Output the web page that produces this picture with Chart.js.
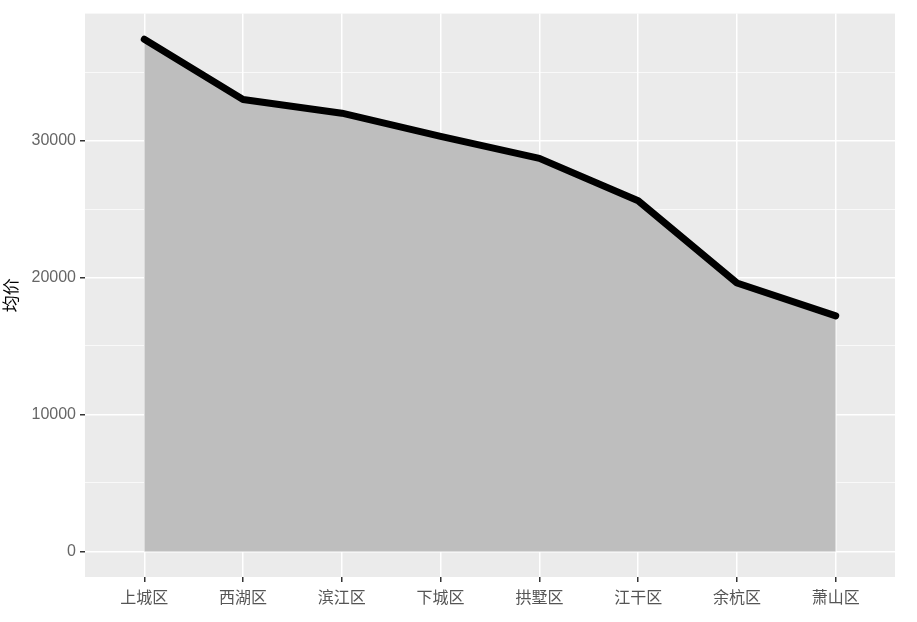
<!DOCTYPE html>
<html>
<head>
<meta charset="utf-8">
<script src="https://cdn.jsdelivr.net/npm/chart.js@4/dist/chart.umd.min.js"></script>
<style>
  html, body { margin: 0; padding: 0; background: #fff; }
  #wrap { width: 917px; height: 622px; }
</style>
</head>
<body>
<div id="wrap"><canvas id="myChart" width="917" height="622"></canvas></div>
<script>
// districts and average price (均价)
const districts = ["上城区", "西湖区", "滨江区", "下城区", "拱墅区", "江干区", "余杭区", "萧山区"];
const prices = [37400, 33000, 32000, 30300, 28700, 25600, 19600, 17200];
const yTicks = [0, 10000, 20000, 30000];
const yMinor = [5000, 15000, 25000, 35000];

const panelBg = {
    id: "panelBg",
    beforeDraw(chart) {
        const a = chart.chartArea;
        const ctx = chart.ctx;
        ctx.save();
        ctx.fillStyle = "#EBEBEB";
        ctx.fillRect(a.left, a.top, a.right - a.left, a.bottom - a.top);
        ctx.restore();
    }
};

const ctx = document.getElementById("myChart").getContext("2d");
new Chart(ctx, {
    type: "line",
    plugins: [panelBg],
    data: {
        datasets: [{
            data: prices.map((p, i) => ({ x: i, y: p })),
            borderColor: "#000",
            borderWidth: 7,
            borderCapStyle: "round",
            borderJoinStyle: "round",
            backgroundColor: "#BEBEBE",
            fill: "origin",
            pointRadius: 0,
            tension: 0
        }]
    },
    options: {
        responsive: false,
        animation: false,
        layout: { padding: { top: 2, right: 22, left: 0, bottom: 0 } },
        plugins: {
            legend: { display: false },
            tooltip: { enabled: false }
        },
        scales: {
            x: {
                type: "linear",
                min: -0.6,
                max: districts.length - 1 + 0.6,
                afterBuildTicks: (s) => { s.ticks = districts.map((d, i) => ({ value: i })); },
                afterFit: (s) => { s.height = 45; },
                border: { display: false },
                grid: {
                    color: "#FFFFFF",
                    lineWidth: 1.5,
                    tickColor: "#333333",
                    tickLength: 5
                },
                ticks: {
                    color: "#555555",
                    font: { family: "'Noto Sans CJK SC', sans-serif", size: 16 },
                    padding: 5,
                    maxRotation: 0,
                    autoSkip: false,
                    callback: (v) => districts[v]
                }
            },
            y: {
                type: "linear",
                min: -1870,
                max: 39270,
                afterBuildTicks: (s) => {
                    s.ticks = yTicks.concat(yMinor).sort((a, b) => a - b).map(v => ({ value: v }));
                },
                afterFit: (s) => { s.width = 85; },
                border: { display: false },
                grid: {
                    color: "#FFFFFF",
                    lineWidth: (c) => yTicks.includes(c.tick.value) ? 1.5 : 0.7,
                    tickColor: (c) => yTicks.includes(c.tick.value) ? "#333333" : "rgba(0,0,0,0)",
                    tickLength: 5
                },
                ticks: {
                    color: "#666666",
                    font: { family: "'Liberation Sans', Arial, sans-serif", size: 16 },
                    padding: 4,
                    autoSkip: false,
                    callback: (v) => yTicks.includes(v) ? String(v) : ""
                },
                title: {
                    display: true,
                    text: "均价",
                    color: "#000",
                    font: { family: "'Noto Sans CJK SC', sans-serif", size: 17 },
                    padding: { top: 0, bottom: 0 }
                }
            }
        }
    }
});
</script>
</body>
</html>
